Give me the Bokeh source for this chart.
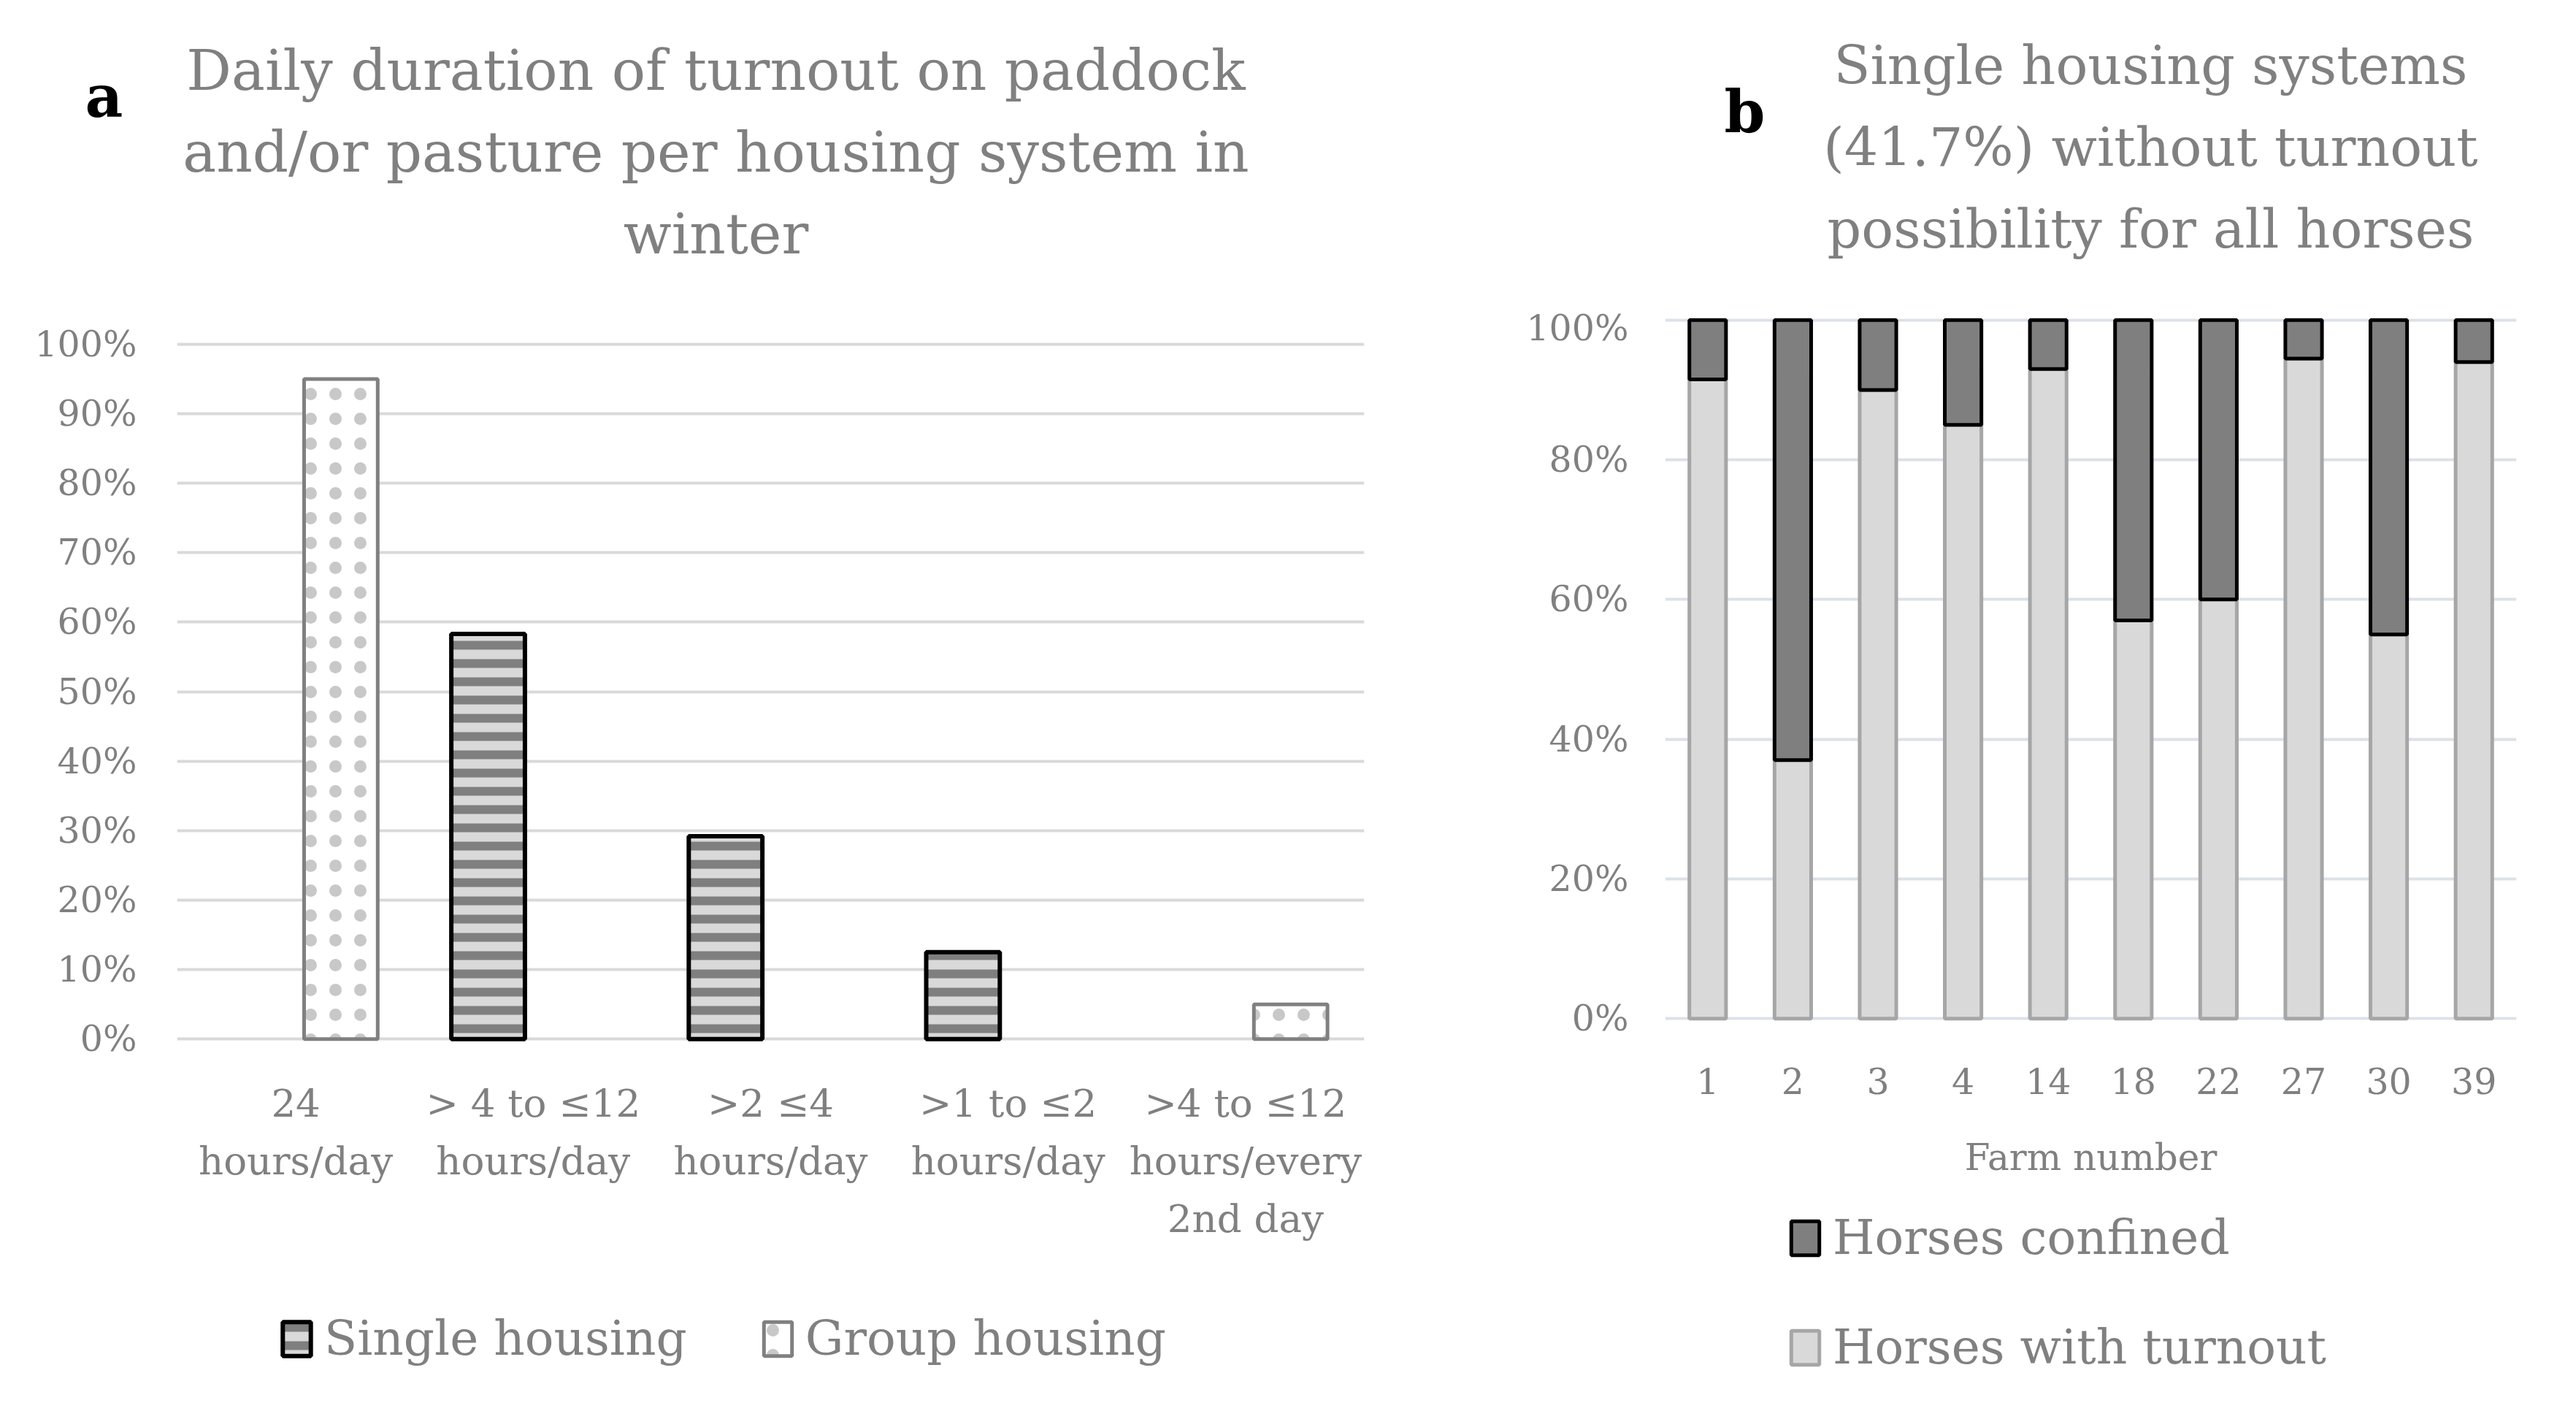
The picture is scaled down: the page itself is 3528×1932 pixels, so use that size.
from bokeh.plotting import figure
from bokeh.models import (ColumnDataSource, Legend, LegendItem,
                          PrintfTickFormatter, FixedTicker, FactorRange, Range1d)
from bokeh.transform import dodge
from bokeh.layouts import row, column
from bokeh.embed import file_html
from bokeh.resources import INLINE
from bokeh.core.properties import value

FONT = "DejaVu Serif"
GRAY_TEXT = "#808080"

# ---------------- Panel a data ----------------
duration_labels = ["24\nhours/day", "> 4 to \u226412\nhours/day", ">2 \u22644\nhours/day",
                   ">1 to \u22642\nhours/day", ">4 to \u226412\nhours/every\n2nd day"]
single_housing = [0.0, 58.3, 29.2, 12.5, 0.0]
group_housing = [95.0, 0.0, 0.0, 0.0, 5.0]
ticks_a = [0, 10, 20, 30, 40, 50, 60, 70, 80, 90, 100]
title_a = ["Daily duration of turnout on paddock", "and/or pasture per housing system in", "winter"]
series_a = ["Single housing", "Group housing"]

# ---------------- Panel b data ----------------
farm_numbers = ["1", "2", "3", "4", "14", "18", "22", "27", "30", "39"]
horses_with_turnout = [91.5, 37.0, 90.0, 85.0, 93.0, 57.0, 60.0, 94.5, 55.0, 94.0]
horses_confined = [8.5, 63.0, 10.0, 15.0, 7.0, 43.0, 40.0, 5.5, 45.0, 6.0]
ticks_b = [0, 20, 40, 60, 80, 100]
title_b = ["Single housing systems", "(41.7%) without turnout", "possibility for all horses"]
series_b = ["Horses confined", "Horses with turnout"]

# ---------------- layout sizes ----------------
HEAD = 420
W_A, MAIN_A, FOOT_A = 1950, 1312, 184
W_B, MAIN_B, FOOT_B = 1562, 1221, 275

SINGLE_STYLE = dict(fill_color="#d9d9d9", hatch_pattern="horizontal_line",
                    hatch_color="#7f7f7f", hatch_scale=25, hatch_weight=12,
                    line_color="#000000", line_width=6)
GROUP_STYLE = dict(fill_color="#ffffff", hatch_pattern="dot", hatch_color="#c8c8c8",
                   hatch_scale=34, hatch_weight=5, line_color="#808080", line_width=5)
TURNOUT_STYLE = dict(fill_color="#d9d9d9", line_color="#a6a6a6", line_width=5)
CONFINED_STYLE = dict(fill_color="#7f7f7f", line_color="#000000", line_width=5)


def blank(width, height):
    f = figure(width=width, height=height, title=None,
               x_range=Range1d(0, width), y_range=Range1d(0, height),
               x_axis_type=None, y_axis_type=None, output_backend="svg",
               toolbar_location=None, frame_align=False,
               min_border_left=0, min_border_right=0,
               min_border_top=0, min_border_bottom=0)
    f.outline_line_color = None
    f.grid.visible = False
    return f


def header(width, letter, letter_xy, lines, line_x, line_y0, line_step, size):
    h = blank(width, HEAD)
    ys = [HEAD - (line_y0 + i * line_step) for i in range(len(lines))]
    h.text(x=[line_x] * len(lines), y=ys, text=lines, text_font=value(FONT),
           text_font_size=size, text_color=GRAY_TEXT, text_align="center",
           text_baseline="middle")
    h.text(x=[letter_xy[0]], y=[HEAD - letter_xy[1]], text=[letter], text_font=value(FONT),
           text_font_style="bold", text_font_size="80px", text_color="#000000",
           text_align="center", text_baseline="middle")
    return h


def footer(width, height, labels, styles, loc, orientation, spacing):
    # legend-only strip: proxy renderers (NaN height, never drawn) carry the bar styles
    f = blank(width, height)
    items = []
    for lab, st in zip(labels, styles):
        r = f.vbar(x=[0], top=[float("nan")], bottom=[0], width=1, **st)
        items.append(LegendItem(label=lab, renderers=[r]))
    lg = Legend(items=items, orientation=orientation, location=loc,
                label_text_font=FONT, label_text_font_size="66px",
                label_text_color=GRAY_TEXT, glyph_width=48, glyph_height=58,
                label_standoff=14, spacing=spacing, padding=10, margin=0,
                border_line_color=None, background_fill_alpha=0)
    f.add_layout(lg, "center")
    return f


def style_common(p, grid_color):
    p.outline_line_color = None
    p.xgrid.visible = False
    p.ygrid.grid_line_color = grid_color
    p.ygrid.grid_line_width = 4
    for ax in (p.xaxis, p.yaxis):
        ax.axis_line_color = None
        ax.major_tick_line_color = None
        ax.minor_tick_line_color = None
        ax.major_tick_out = 0
        ax.major_tick_in = 0
        ax.major_label_text_font = FONT
        ax.major_label_text_color = GRAY_TEXT


# ================= Panel a =================
head_a = header(W_A, "a", (142, 131), title_a, 980, 96, 112, "77px")

pa = figure(width=W_A, height=MAIN_A, title=None,
            x_range=FactorRange(factors=duration_labels), y_range=Range1d(-0.4, 100.4),
            output_backend="svg", toolbar_location=None, frame_align=False,
            min_border_left=242, min_border_right=82,
            min_border_top=47, min_border_bottom=306)
style_common(pa, "#d9d9d9")

src_single = ColumnDataSource(dict(
    cat=[k for k, v in zip(duration_labels, single_housing) if v > 0],
    val=[v for v in single_housing if v > 0]))
src_group = ColumnDataSource(dict(
    cat=[k for k, v in zip(duration_labels, group_housing) if v > 0],
    val=[v for v in group_housing if v > 0]))

pa.vbar(x=dodge("cat", -0.19, range=pa.x_range), top="val", bottom=0, width=0.31,
        source=src_single, **SINGLE_STYLE)
pa.vbar(x=dodge("cat", 0.19, range=pa.x_range), top="val", bottom=0, width=0.31,
        source=src_group, **GROUP_STYLE)

pa.xaxis.major_label_text_font_size = "53px"
pa.xaxis.major_label_text_line_height = 1.3
pa.xaxis.major_label_standoff = 53
pa.yaxis.ticker = FixedTicker(ticks=ticks_a)
pa.yaxis.formatter = PrintfTickFormatter(format="%d%%")
pa.yaxis.major_label_text_font_size = "49px"
pa.yaxis.major_label_standoff = 55

foot_a = footer(W_A, FOOT_A, series_a, [SINGLE_STYLE, GROUP_STYLE], (382, 45),
                "horizontal", 100)

# ================= Panel b =================
head_b = header(W_B, "b", (439, 152), title_b, 995, 89, 112, "73px")

pb = figure(width=W_B, height=MAIN_B, title=None,
            x_range=FactorRange(factors=farm_numbers), y_range=Range1d(-0.4, 100.4),
            output_backend="svg", toolbar_location=None, frame_align=False,
            min_border_left=330, min_border_right=66,
            min_border_top=14, min_border_bottom=243)
style_common(pb, "#dde1e8")

src_b = ColumnDataSource(dict(farm=farm_numbers, turnout=horses_with_turnout,
                              confined=horses_confined))
pb.vbar_stack(["turnout", "confined"], x="farm", width=0.43, source=src_b,
              fill_color=[TURNOUT_STYLE["fill_color"], CONFINED_STYLE["fill_color"]],
              line_color=[TURNOUT_STYLE["line_color"], CONFINED_STYLE["line_color"]],
              line_width=5)

pb.xaxis.major_label_text_font_size = "49px"
pb.xaxis.major_label_standoff = 63
pb.xaxis.axis_label = "Farm number"
pb.xaxis.axis_label_text_font = FONT
pb.xaxis.axis_label_text_font_size = "50px"
pb.xaxis.axis_label_text_font_style = "normal"
pb.xaxis.axis_label_text_color = GRAY_TEXT
pb.xaxis.axis_label_standoff = 55
pb.yaxis.ticker = FixedTicker(ticks=ticks_b)
pb.yaxis.formatter = PrintfTickFormatter(format="%d%%")
pb.yaxis.major_label_text_font_size = "49px"
pb.yaxis.major_label_standoff = 50

foot_b = footer(W_B, FOOT_B, series_b, [CONFINED_STYLE, TURNOUT_STYLE], (498, 33),
                "vertical", 73)

layout = row(column(head_a, pa, foot_a), column(head_b, pb, foot_b))
open("out.html", "w").write(file_html(layout, INLINE))
